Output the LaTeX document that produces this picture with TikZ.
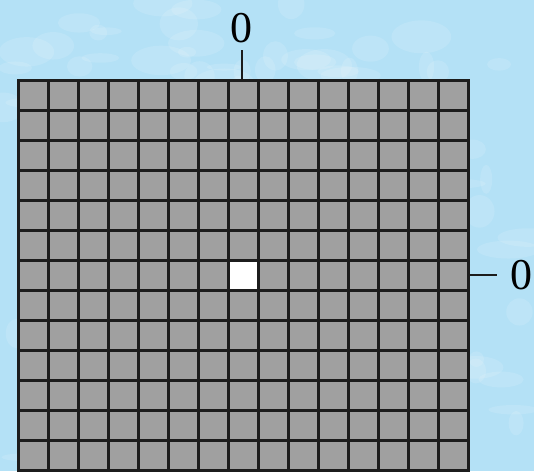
\documentclass[tikz,border=0pt]{standalone}
\usepackage{fontspec}
\usetikzlibrary{positioning}
\newfontfamily\markfont{Liberation Serif}
\definecolor{skyback}{RGB}{180,225,246}
\definecolor{cellgray}{RGB}{160,160,160}
\definecolor{gridline}{RGB}{28,28,28}

\begin{document}
\begin{tikzpicture}[x=1pt,y=-1pt,
  gline/.style={draw=gridline,line width=3pt,line cap=rect},
  tick/.style={draw=gridline,line width=1.3pt},
  zero/.style={font=\markfont\fontsize{44}{46}\selectfont,inner sep=0pt,text=black}]
\useasboundingbox (0,0) rectangle (534,471);
\clip (0,0) rectangle (534,471);
\fill[skyback] (0,0) rectangle (534,471);
% frosty texture of the background
\pgfmathsetseed{7}
\foreach \k in {1,...,140}
  \fill[white,opacity=0.12] ({rnd*534},{rnd*471}) ellipse ({6+rnd*26} and {3+rnd*14});
% cells, the one at (7,6) left open
\fill[cellgray] (18,80) rectangle (468,470);
\fill[white] (228,260) rectangle (258,290);
\foreach \c in {0,...,15}
  \draw[gline] ({18+30*\c},80) -- ({18+30*\c},470);
\foreach \r in {0,...,13}
  \draw[gline] (18,{80+30*\r}) -- (468,{80+30*\r});
% the two zero marks
\node[zero] (topzero) at (241,28) {0};
\node[zero] (rightzero) at (521,275) {0};
\coordinate (topfoot) at (242,80);
\coordinate (rightfoot) at (468,275);
\draw[tick] (topfoot) -- (242,50);
\draw[tick] (rightfoot) -- (497,275);
\end{tikzpicture}
\end{document}
